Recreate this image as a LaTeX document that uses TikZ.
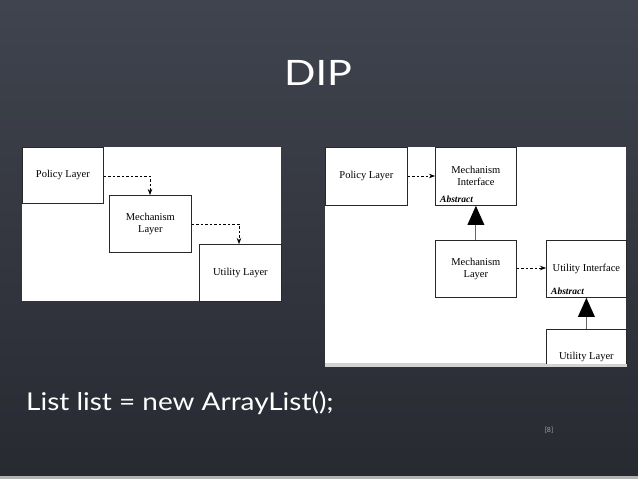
\documentclass[tikz,border=0pt]{standalone}
\usepackage{fontspec}
\setmainfont{Liberation Serif}
\newfontfamily\slidefont{Lato}
\usetikzlibrary{arrows.meta}
\definecolor{bgtop}{RGB}{64,68,78}
\definecolor{bgbot}{RGB}{40,42,50}
\definecolor{boxline}{RGB}{40,40,40}
\tikzset{
  x=1pt, y=-1pt,
  panel/.style={fill=white, draw=none},
  layerbox/.style={draw=boxline, line width=0.8pt, fill=white, anchor=north west,
     minimum width=82pt, minimum height=57pt, inner sep=0pt, align=center,
     font=\fontsize{10.5}{12}\selectfont},
  abstr/.style={font=\fontsize{9.5}{11}\selectfont\bfseries\itshape, inner sep=0pt, anchor=west},
  dep/.style={dashed, dash pattern=on 2.5pt off 2pt, line width=0.7pt, black,
     -{Stealth[length=6pt,width=4.5pt]}},
  inh/.style={draw=gray!80!black, line width=1pt},
  tri/.style={fill=black, draw=none},
}
\begin{document}
\begin{tikzpicture}
\useasboundingbox (0,0) rectangle (638,479);
\shade[top color=bgtop, bottom color=bgbot] (0,0) rectangle (638,476);
\fill[gray!60] (0,476) rectangle (638,479);

% title
\node[font=\slidefont\fontsize{35}{40}\selectfont, text=white] (title) at (318,73) {\scalebox{1.18}[1]{DIP}};

% left panel
\fill[panel] (22,147) rectangle (281,301);
\node[layerbox, minimum width=81pt, minimum height=56pt] (pl) at (22,147) {Policy Layer};
\node[layerbox, minimum width=82pt, minimum height=57pt] (ml) at (109,195) {Mechanism\\Layer};
\node[layerbox, minimum width=82pt, minimum height=57pt] (ul) at (199,244) {Utility Layer};
\coordinate (c1) at (150,176);
\coordinate (c2) at (239,224);
\draw[dep] (pl.east |- c1) -- (c1) -- (c1 |- ml.north);
\draw[dep] (ml.east |- c2) -- (c2) -- (c2 |- ul.north);

% right panel
\fill[panel] (325,147) rectangle (626,363);
\fill[gray!35] (325,363) rectangle (627,367);
\node[layerbox, minimum width=82pt, minimum height=58pt] (rpl) at (325,147) {Policy Layer};
\node[layerbox, minimum width=81pt, minimum height=58pt] (rmi) at (435,147) {Mechanism\\Interface};
\node[abstr] (ab1) at (440,199.5) {Abstract};
\node[layerbox, minimum width=81pt, minimum height=57pt] (rml) at (435,240) {Mechanism\\Layer};
\node[layerbox, minimum width=80pt, minimum height=57pt] (rui) at (546,240) {Utility Interface};
\node[abstr] (ab2) at (551,291.5) {Abstract};
\begin{scope}
\clip (325,147) rectangle (627,363);
\node[layerbox, minimum width=80pt, minimum height=56pt] (rul) at (546,329) {Utility Layer};
\end{scope}
\draw[dep] (rpl.east |- 0,176) -- (rmi.west |- 0,176);
\draw[dep] (rml.east |- 0,268) -- (rui.west |- 0,268);
% inheritance
\draw[inh] (rml.north) -- ++(0,-17);
\fill[tri] (rmi.south) -- ++(-8.5,19) -- ++(17,0) -- cycle;
\draw[inh] (rul.north) -- ++(0,-14);
\fill[tri] (rui.south) -- ++(-8.5,19) -- ++(17,0) -- cycle;

% code line
\node[font=\slidefont\fontsize{24.5}{28}\selectfont, text=white, anchor=west, inner sep=0pt] (code) at (26,403) {\scalebox{1.14}[1]{List list = new ArrayList();}};
\node[font=\slidefont\fontsize{7}{8}\selectfont, text=gray!70, inner sep=0pt] (pg) at (549,430) {[8]};
\end{tikzpicture}
\end{document}
